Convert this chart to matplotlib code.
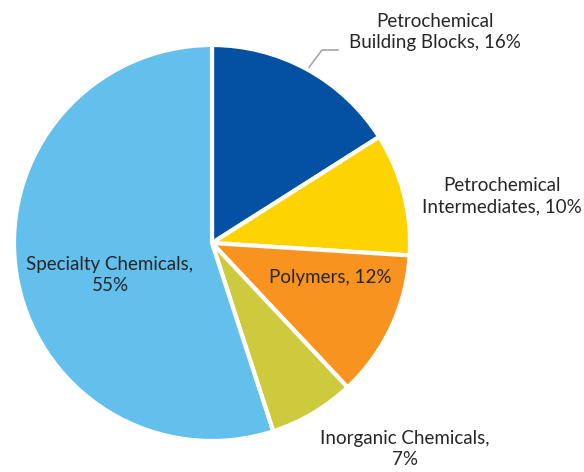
import numpy as np
import matplotlib.pyplot as plt

categories = ["Petrochemical\nBuilding Blocks", "Petrochemical\nIntermediates", "Polymers",
              "Inorganic Chemicals", "Specialty Chemicals"]
shares = [16, 10, 12, 7, 55]
colors = ["#0450A2", "#FDD400", "#F7931E", "#CDCB3D", "#63BFEB"]

plt.rcParams['font.family'] = ['Lato', 'DejaVu Sans']

W, H = 584, 472
fig = plt.figure(figsize=(W / 100, H / 100), dpi=100)
ax = fig.add_axes([0, 0, 1, 1])
ax.set_xlim(0, W)
ax.set_ylim(0, H)
ax.set_aspect('equal')
ax.axis('off')

cx, cy, r = 212, H - 243, 198
wedges, _ = ax.pie(shares, colors=colors, startangle=90, counterclock=False,
                   center=(cx, cy), radius=r, frame=True,
                   wedgeprops=dict(edgecolor='white', linewidth=3))
ax.set_xlim(0, W)
ax.set_ylim(0, H)
ax.axis('off')

txt = dict(fontsize=13.5, color='#262626', ha='center', va='center', linespacing=1.3)
labels = [f"{c}, {s}%" for c, s in zip(categories, shares)]
labels[3] = f"{categories[3]},\n{shares[3]}%"
labels[4] = f"{categories[4]},\n{shares[4]}%"

positions = [(435, H - 32), (502, H - 196), (330, H - 278), (405, H - 449), (110, H - 275)]
for lab, (x, y) in zip(labels, positions):
    ax.text(x, y, lab, **txt)

# leader line for the first wedge
mid = np.deg2rad(90 - shares[0] / sum(shares) * 360 / 2)
ex, ey = cx + r * np.cos(mid), cy + r * np.sin(mid)
ax.plot([ex, 322, 338], [ey, H - 50, H - 50], color='#A6A6A6', lw=1.2, zorder=0)

fig.savefig("out.png", dpi=100)
